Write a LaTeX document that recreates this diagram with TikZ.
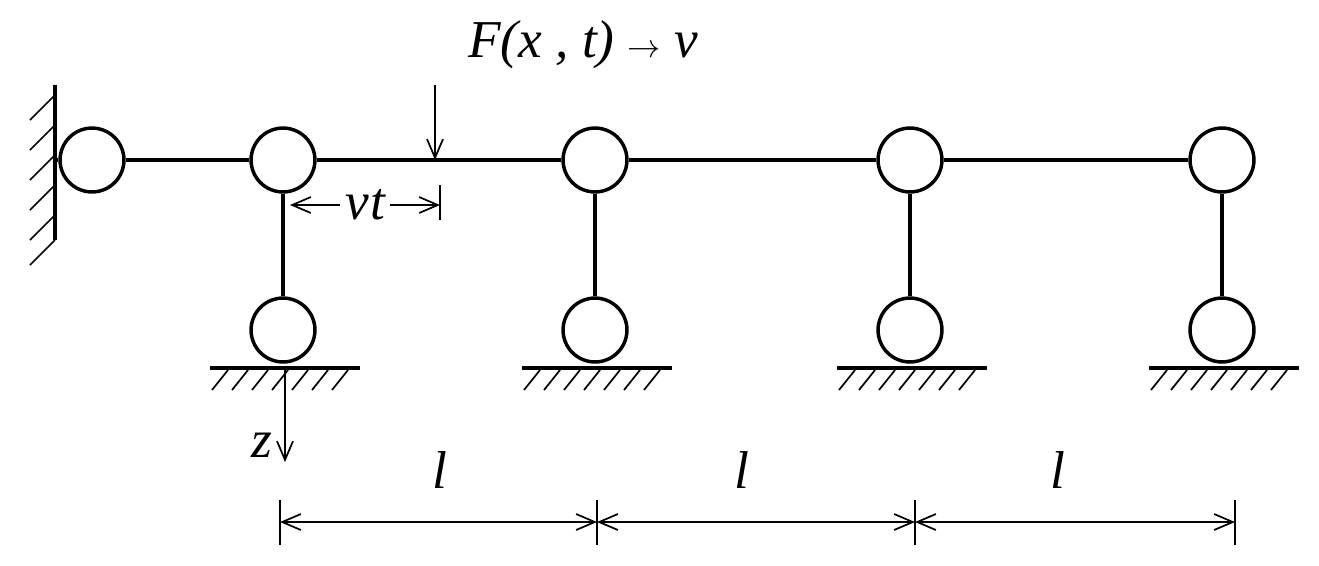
\documentclass[tikz,border=0pt]{standalone}
\usepackage{fontspec}
\setmainfont{Liberation Serif}
\usetikzlibrary{arrows.meta}
\begin{document}
\begin{tikzpicture}[x=0.0264cm,y=-0.0264cm,
  thick line/.style={line width=3pt},
  thin line/.style={line width=1.3pt},
  ball/.style={circle,draw,line width=2.6pt,minimum size=48pt,inner sep=0pt},
  arr/.style={thin line,-{Straight Barb[length=14pt,width=12pt]}},
  dim/.style={thin line,{Straight Barb[length=14pt,width=12pt]}-{Straight Barb[length=14pt,width=12pt]}},
  lab/.style={font=\fontsize{40}{48}\selectfont\itshape,inner sep=0pt}]
\useasboundingbox (0,0) rectangle (1319,565);
% wall
\draw[thick line] (55,85) -- (55,240);
\foreach \y in {95,125,155,185,215,240} \draw[thin line] (55,\y) -- (30,\y+25);
% top balls
\node[ball] (t0) at (92,160) {};
\node[ball] (t1) at (283,160) {};
\node[ball] (t2) at (595,160) {};
\node[ball] (t3) at (910,160) {};
\node[ball] (t4) at (1222,160) {};
\draw[thick line] (55,160) -- (t0.west);
\draw[thick line] (t0) -- (t1);
\draw[thick line] (t1) -- (t2);
\draw[thick line] (t2) -- (t3);
\draw[thick line] (t3) -- (t4);
% bottom balls and grounds
\foreach \i/\x in {1/283,2/595,3/910,4/1222}{
  \node[ball] (b\i) at (\x,330) {};
  \draw[thick line] (t\i) -- (b\i);
  \draw[thick line] (\x-73,368) -- (\x+77,368);
  \foreach \d in {-55,-35,...,80} \draw[thin line] (\x+\d,370) -- (\x+\d-16,390);
}
% load
\coordinate (Ftop) at (435,85);
\coordinate (Fbot) at (435,160);
\draw[arr] (Ftop) -- (Fbot);
\node[lab,anchor=west] (F) at (468,45) {F(x , t) $\rightarrow$ v};
% vt
\coordinate (vt1) at (290,205);
\coordinate (vt2) at (440,205);
\draw[thin line] (440,185) -- (440,220);
\draw[dim] (vt1) -- node[fill=white,lab,inner xsep=4pt] {v\kern1pt t} (vt2);
% z
\coordinate (z1) at (285,370);
\coordinate (z2) at (285,462);
\draw[arr] (z1) -- (z2);
\node[lab] (z) at (262,445) {z};
% dimension
\foreach \x/\n in {280/d0,597/d1,915/d2,1235/d3}{
  \coordinate (\n) at (\x,522);
  \draw[thin line] (\x,500) -- (\x,545);
}
\draw[dim] (d0) -- (d1);
\draw[dim] (d1) -- (d2);
\draw[dim] (d2) -- (d3);
\node[lab] (l1) at (440,470) {l};
\node[lab] (l2) at (742,470) {l};
\node[lab] (l3) at (1058,470) {l};
\end{tikzpicture}
\end{document}
